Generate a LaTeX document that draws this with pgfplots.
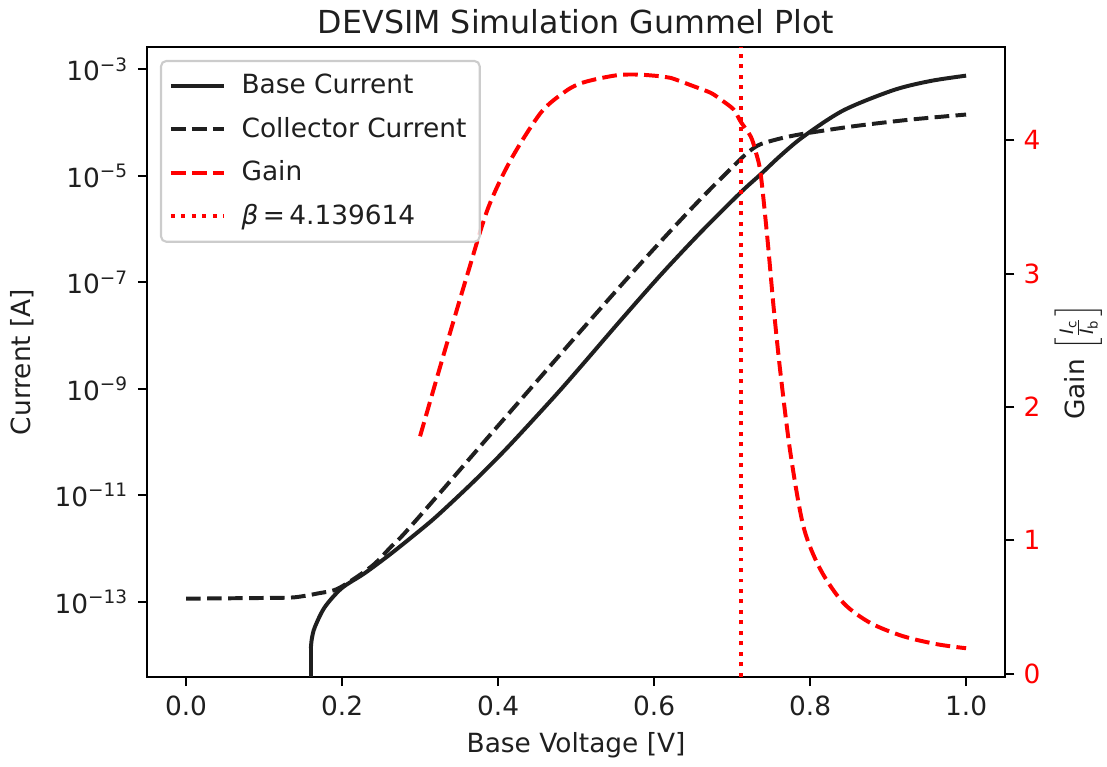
\documentclass[border=0pt]{standalone}
\usepackage{fontspec}
\setmainfont{DejaVu Sans}
\usepackage{pgfplots}
\pgfplotsset{compat=1.18}
\definecolor{txt}{gray}{0.12}

\pgfplotsset{
  common/.style={
    at={(0,0)}, anchor=south west,
    scale only axis, width=325pt, height=238.6pt,
    xmin=-0.05, xmax=1.05,
    tick align=outside,
    major tick length=3.5pt,
    every tick/.style={black, line width=0.8pt},
    axis line style={line width=0.8pt, black},
    tick label style={font=\fontsize{10}{12}\selectfont, text=txt},
    label style={font=\fontsize{10}{12}\selectfont, text=txt},
    /pgf/number format/assume math mode=true,
    legend image code/.code={\draw[#1] (0pt,0pt) -- (20pt,0pt);},
  },
}

\begin{document}
\begin{tikzpicture}
\useasboundingbox (-55.7pt,-34.1pt) rectangle (363.6pt,256.4pt);

\begin{axis}[
  common,
  ymode=log, ymin=3.86e-15, ymax=2.64e-3,
  xtick pos=left, ytick pos=left,
  xtick={0,0.2,0.4,0.6,0.8,1.0},
  xticklabels={0.0,0.2,0.4,0.6,0.8,1.0},
  ytick={1e-13,1e-11,1e-9,1e-7,1e-5,1e-3},
  yticklabels={10\textsuperscript{−13},10\textsuperscript{−11},10\textsuperscript{−9},10\textsuperscript{−7},10\textsuperscript{−5},10\textsuperscript{−3}},
  minor ytick={},
  xlabel={Base Voltage [V]},
  ylabel={Current [A]},
  xlabel style={at={(axis description cs:0.5,0)}, anchor=center, yshift=-25.8pt},
  ylabel style={at={(axis description cs:-0.1456,0.5)}, anchor=center},
  title={DEVSIM Simulation Gummel Plot},
  title style={at={(axis description cs:0.5,1)}, anchor=center, yshift=3.5pt, font=\fontsize{12}{14}\selectfont, text=txt},
]
% Base current: drop to non-positive values below 0.16 V
\addplot[black!88, line width=1.5pt] coordinates {(0.1600,1e-20) (0.1600,1.33e-14)};
% Base current
\addplot[black!88, line width=1.5pt, smooth] coordinates {
(0.1600,1.33e-14) (0.1612,2.00e-14) (0.1650,3.30e-14) (0.1777,7.85e-14) (0.1995,1.79e-13)
(0.2289,3.42e-13) (0.2634,8.13e-13) (0.3056,2.56e-12) (0.3274,4.86e-12)
(0.3696,1.86e-11) (0.4130,8.15e-11) (0.4719,7.05e-10) (0.5064,2.65e-9)
(0.5575,1.96e-8) (0.6087,1.39e-7) (0.6598,8.71e-7) (0.7110,4.88e-6)
(0.7366,1.07e-5) (0.7621,2.40e-5) (0.7916,5.50e-5) (0.8427,1.70e-4)
(0.9066,4.07e-4) (0.9540,6.05e-4) (1.0000,7.64e-4)
};
% Collector current
\addplot[black!88, line width=1.5pt, smooth, dash pattern=on 5.55pt off 2.4pt] coordinates {
(0.0000,1.14e-13) (0.0588,1.16e-13) (0.1100,1.18e-13) (0.1394,1.21e-13)
(0.1701,1.44e-13) (0.1957,1.79e-13) (0.2379,4.62e-13) (0.2634,1.10e-12)
(0.2801,1.93e-12) (0.3274,1.19e-11) (0.3824,1.02e-10) (0.4297,6.38e-10)
(0.4808,4.61e-9) (0.5064,1.24e-8) (0.5575,8.73e-8) (0.6087,5.90e-7)
(0.6598,3.70e-6) (0.7110,2.07e-5) (0.7238,3.03e-5) (0.7366,3.94e-5)
(0.7621,5.05e-5) (0.7916,6.18e-5) (0.8555,8.55e-5) (0.9284,1.14e-4)
(1.0000,1.42e-4)
};
\end{axis}

\begin{axis}[
  common,
  ymin=-0.025, ymax=4.70,
  axis y line*=right, axis x line=none,
  tick align=outside,
  ytick={0,1,2,3,4},
  yticklabel style={text=red},
  ylabel={Gain \(\left[\frac{\mbox{\scriptsize\textit{I}\textsubscript{c}}}{\mbox{\scriptsize\textit{I}\textsubscript{b}}}\right]\)},
  ylabel style={at={(axis description cs:1.0852,0.5)}, anchor=center},
  legend cell align=left,
  legend style={at={(axis description cs:0,1)}, anchor=north west,
    xshift=4.9pt, yshift=-4.9pt, draw=black!20, line width=0.8pt,
    rounded corners=2pt, fill=white, fill opacity=0.8, text opacity=1, draw opacity=1,
    font=\fontsize{10}{12}\selectfont, text=txt, row sep=3.4pt, column sep=4pt,
    inner xsep=3pt, inner ysep=3pt},
]
\addlegendimage{black!88, line width=1.5pt}
\addlegendentry{Base Current}
\addlegendimage{black!88, line width=1.5pt, dash pattern=on 5.55pt off 2.4pt}
\addlegendentry{Collector Current}
% Gain
\addplot[red, line width=1.5pt, smooth, dash pattern=on 5.55pt off 2.4pt] coordinates {
(0.3000,1.78) (0.3316,2.42) (0.3615,3.01) (0.3871,3.49) (0.4169,3.86)
(0.4552,4.21) (0.4847,4.36) (0.5026,4.42) (0.5230,4.455) (0.5537,4.489)
(0.5793,4.493) (0.6087,4.480) (0.6215,4.468) (0.6509,4.405) (0.6726,4.356)
(0.6854,4.306) (0.7020,4.231) (0.7110,4.140) (0.7238,4.03) (0.7300,3.92)
(0.7366,3.75) (0.7455,3.25) (0.7532,2.75) (0.7621,2.25) (0.7749,1.65)
(0.7916,1.10) (0.8133,0.78) (0.8427,0.53) (0.8772,0.38) (0.9194,0.28)
(0.9629,0.22) (1.0000,0.19)
};
\addlegendentry{Gain}
\addplot[red, line width=1.5pt, dash pattern=on 1.5pt off 2.475pt] coordinates {
(0.7110,-0.025) (0.7110,4.70)
};
\addlegendentry{\textit{β}\,=\,4.139614}
\end{axis}
\end{tikzpicture}
\end{document}
